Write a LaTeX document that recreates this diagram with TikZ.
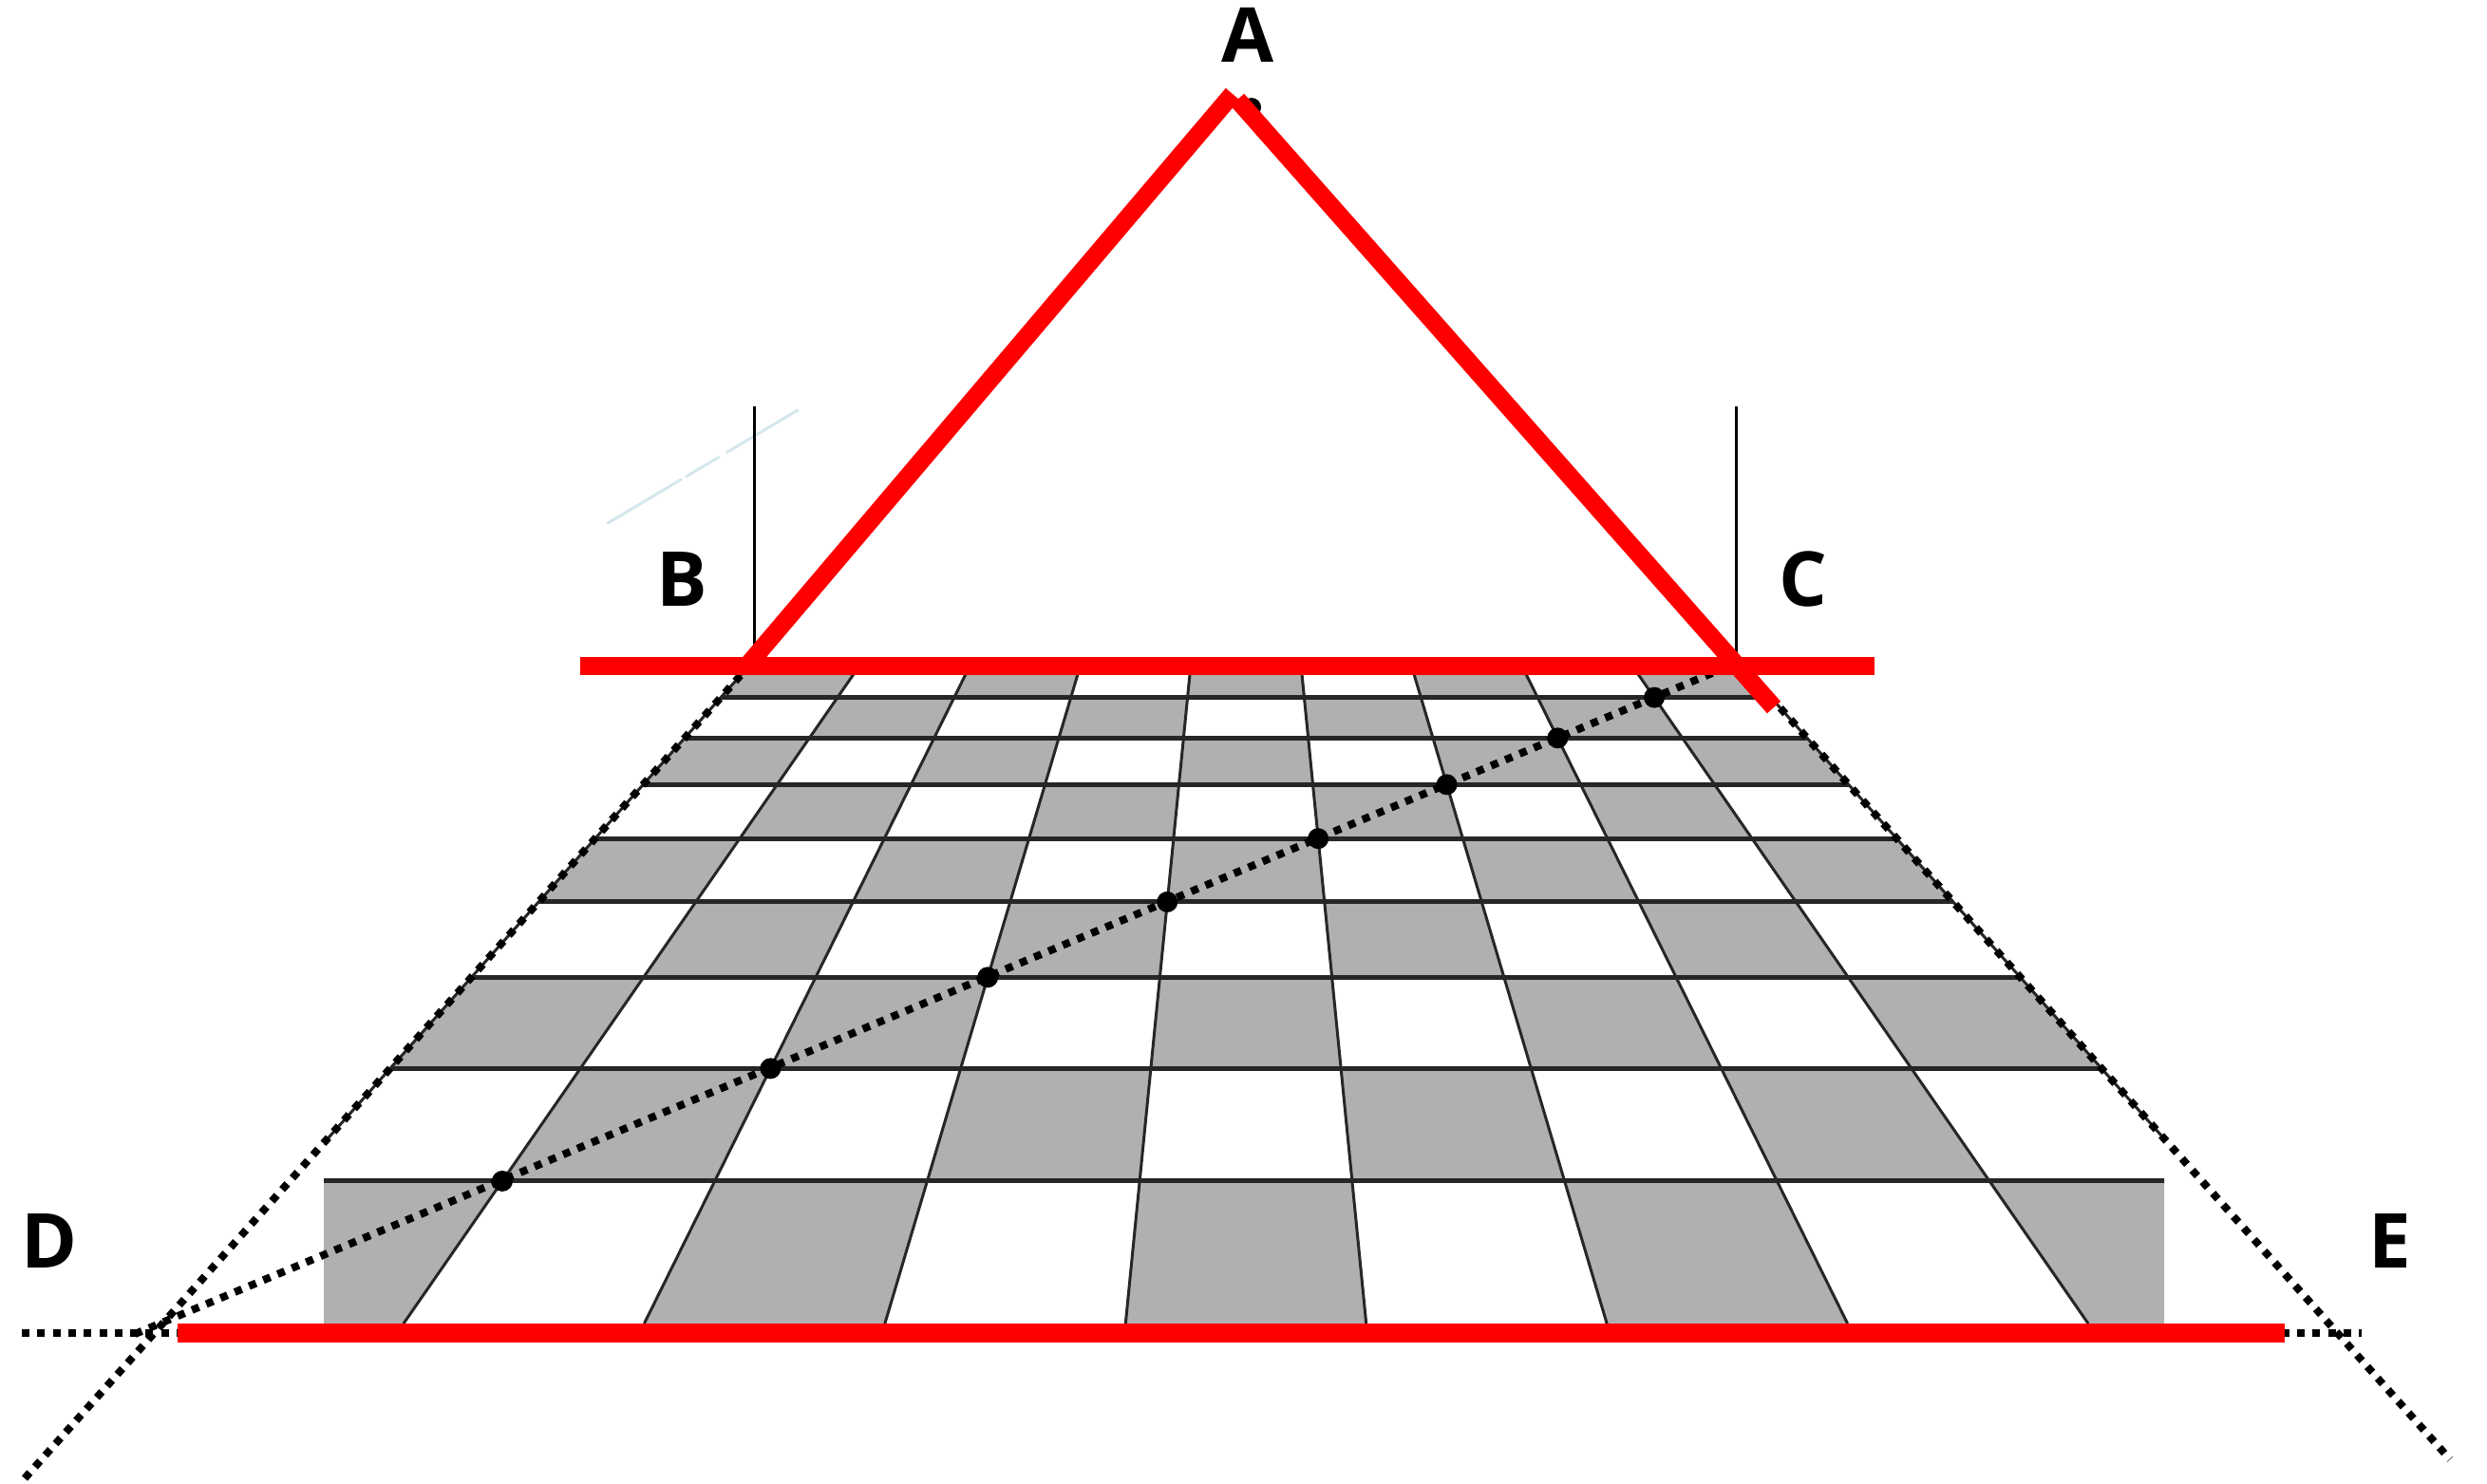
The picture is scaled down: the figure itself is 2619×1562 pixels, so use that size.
\documentclass[tikz,border=0pt]{standalone}
\usepackage{fontspec}
\setsansfont{Open Sans}
\definecolor{pured}{RGB}{255,0,0}
\definecolor{tilegray}{RGB}{176,176,176}
\definecolor{smudge}{RGB}{196,222,230}
\begin{document}
\begin{tikzpicture}[x=0.1mm,y=-0.1mm,
  redline/.style={draw=pured,line width=1.9mm},
  dotline/.style={line width=0.8mm,dash pattern=on 0.8mm off 0.83mm},
  gridline/.style={draw=black!85,line width=0.3mm},
  lab/.style={font=\sffamily\bfseries\fontsize{22.7}{24}\selectfont},
  declare function={dep(\lin)=10000/(7.8125+1.0377*\lin);
    px(\ucol,\lin)=1312+0.198*\ucol*dep(\lin); py(\lin)=114+dep(\lin);}]
  \fill[white] (0,0) rectangle (2619,1562);
  \useasboundingbox (0,0) rectangle (2619,1562);
  \draw[smudge,opacity=0.7,line width=0.3mm,line cap=round,dash pattern=on 9mm off 0.6mm on 4mm off 1mm]
    (640,551) -- (840,432);
  % board in perspective, 9 by 9 squares
  \begin{scope}
    \clip (341,0) rectangle (2279,1394);
    \foreach \row in {0,...,8}
      \foreach \col in {-4,...,4}{
        \pgfmathtruncatemacro\tilesum{\col+\row+10}
        \ifodd\tilesum\else
          \fill[tilegray] ({px(\col-0.5,\row)},{py(\row)}) -- ({px(\col+0.5,\row)},{py(\row)})
            -- ({px(\col+0.5,\row+1)},{py(\row+1)}) -- ({px(\col-0.5,\row+1)},{py(\row+1)}) -- cycle;
        \fi}
    \foreach \ucol in {-4.5,-3.5,...,4.5}
      \draw[gridline] ({px(\ucol,0)},{py(0)}) -- ({px(\ucol,9)},{py(9)});
    \foreach \lin in {1,...,8}
      \draw[gridline,line width=0.5mm] ({px(-4.5,\lin)},{py(\lin)}) -- ({px(4.5,\lin)},{py(\lin)});
  \end{scope}
  \coordinate (B) at ({px(-4.5,9)},{py(9)});
  \coordinate (C) at ({px(4.5,9)},{py(9)});
  \coordinate (V) at (1318,113);
  \coordinate (lowL) at (26,1557);
  \coordinate (lowR) at (2580,1537);
  \coordinate (diagS) at (142,1405);
  \draw[line width=0.3mm] (794,697) -- (794,428);
  \draw[line width=0.3mm] (1828,697) -- (1828,428);
  % dotted construction lines
  \draw[dotline] (23,1404) -- (2487,1404);
  \draw[dotline] (lowL) -- (B);
  \draw[dotline] (C) -- (lowR);
  \draw[dotline] (diagS) -- (C);
  \foreach \lin in {1,...,8}
    \fill ({px(\lin-4.5,\lin)},{py(\lin)}) coordinate (d\lin) circle[radius=1.1mm];
  \fill (V) circle[radius=1mm];
  % red triangle and base lines
  \draw[redline] (611,701) -- (1974,701);
  \draw[redline] (1303,105) -- (1868,745);
  \draw[redline] (787,701) -- (1298,99);
  \draw[redline,line width=2mm] (187,1404) -- (2406,1404);
  \node[lab] (labA) at (1314,37) {A};
  \node[lab] (labB) at (718,610) {B};
  \node[lab] (labC) at (1899,610) {C};
  \node[lab] (labD) at (52,1307) {D};
  \node[lab] (labE) at (2517,1307) {E};
\end{tikzpicture}
\end{document}
